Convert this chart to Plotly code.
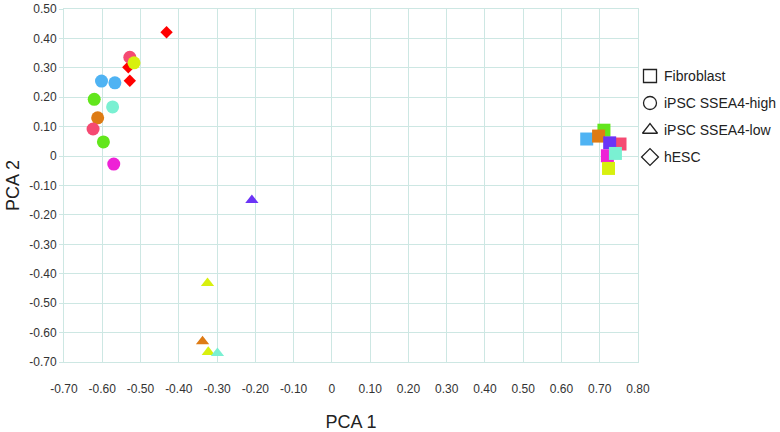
import plotly.graph_objects as go

# ---- data ----
fib_x = [0.711, 0.666, 0.697, 0.753, 0.726, 0.720, 0.741, 0.723]
fib_y = [0.088, 0.058, 0.068, 0.041, 0.045, 0.001, 0.009, -0.042]
fib_c = ["#62e61c", "#4fb3f3", "#de7b14", "#f54a72", "#6b34f6", "#ee22d6", "#7af0d2", "#d8f00e"]

hi_x = [-0.528, -0.517, -0.602, -0.567, -0.621, -0.573, -0.612, -0.624, -0.597, -0.570]
hi_y = [0.336, 0.317, 0.255, 0.249, 0.193, 0.167, 0.130, 0.092, 0.048, -0.027]
hi_c = ["#f54a72", "#d8f00e", "#4fb3f3", "#4fb3f3", "#62e61c", "#7af0d2", "#de7b14", "#f54a72", "#62e61c", "#ee22d6"]

lo_x = [-0.209, -0.325, -0.338, -0.323, -0.299]
lo_y = [-0.150, -0.432, -0.630, -0.666, -0.670]
lo_c = ["#6b34f6", "#d8f00e", "#de7b14", "#d8f00e", "#7af0d2"]

es_x = [-0.432, -0.532, -0.528]
es_y = [0.421, 0.302, 0.256]
es_c = ["#ff0000", "#ff0000", "#ff0000"]

legend_names = ["Fibroblast", "iPSC SSEA4-high", "iPSC SSEA4-low", "hESC"]
legend_symbols = ["square-open", "circle-open", "triangle-up-open", "diamond-open"]

x_ticks = [-0.7, -0.6, -0.5, -0.4, -0.3, -0.2, -0.1, 0, 0.1, 0.2, 0.3, 0.4, 0.5, 0.6, 0.7, 0.8]
x_ticktext = ["-0.70", "-0.60", "-0.50", "-0.40", "-0.30", "-0.20", "-0.10", "0",
              "0.10", "0.20", "0.30", "0.40", "0.50", "0.60", "0.70", "0.80"]
y_ticks = [0.5, 0.4, 0.3, 0.2, 0.1, 0, -0.1, -0.2, -0.3, -0.4, -0.5, -0.6, -0.7]
y_ticktext = ["0.50", "0.40", "0.30", "0.20", "0.10", "0", "-0.10", "-0.20",
              "-0.30", "-0.40", "-0.50", "-0.60", "-0.70"]

# ---- layout geometry (pixels) ----
W, H = 780, 432
L, T, B = 64, 9, 70
PLOT_RIGHT = 638
GRID = "#cde7e3"
FONT = "Liberation Sans, Arial, sans-serif"
TICKFONT = dict(family=FONT, size=12, color="#333333")

fig = go.Figure()

# data traces (draw order: diamonds, circles, triangles, squares)
fig.add_trace(go.Scatter(x=es_x, y=es_y, mode="markers", showlegend=False,
                         marker=dict(symbol="diamond", size=9.5, color=es_c, line=dict(width=0))))
fig.add_trace(go.Scatter(x=hi_x, y=hi_y, mode="markers", showlegend=False,
                         marker=dict(symbol="circle", size=13, color=hi_c, line=dict(width=0))))
fig.add_trace(go.Scatter(x=lo_x, y=lo_y, mode="markers", showlegend=False,
                         marker=dict(symbol="triangle-up", size=11.5, color=lo_c, line=dict(width=0))))
fig.add_trace(go.Scatter(x=fib_x, y=fib_y, mode="markers", showlegend=False,
                         marker=dict(symbol="square", size=13, color=fib_c, line=dict(width=0))))

# key (legend) drawn on an auxiliary axis in the right-hand area, in pixel units
key_x0, key_y0, key_dy, key_gap = 650, 76, 27, 12
key_x = [key_x0] * len(legend_names)
key_y = [key_y0 + i * key_dy for i in range(len(legend_names))]
fig.add_trace(go.Scatter(x=key_x, y=key_y, xaxis="x2", yaxis="y2",
                         mode="markers", showlegend=False, cliponaxis=False, hoverinfo="skip",
                         marker=dict(symbol=legend_symbols, size=13, color="#222222",
                                     line=dict(width=1.3, color="#222222"))))
for name, kx, ky in zip(legend_names, key_x, key_y):
    fig.add_annotation(x=kx + key_gap, y=ky, xref="x2", yref="y2", text=name,
                       showarrow=False, xanchor="left", yanchor="middle",
                       font=dict(family=FONT, size=14, color="#222222"))

dom_right = (PLOT_RIGHT - L) / (W - L)

fig.update_layout(
    width=W, height=H,
    margin=dict(l=L, r=0, t=T, b=B, autoexpand=False),
    paper_bgcolor="white", plot_bgcolor="white",
    font=dict(family=FONT, color="#222222"),
    showlegend=False,
    xaxis=dict(domain=[0, dom_right], range=[-0.7, 0.8], tickvals=x_ticks, ticktext=x_ticktext,
               showgrid=True, gridcolor=GRID, gridwidth=1, zeroline=False,
               showline=True, linecolor=GRID, linewidth=1, mirror=True,
               ticks="", tickfont=TICKFONT, ticklabelstandoff=16,
               title=dict(text="PCA 1", font=dict(size=18, color="#222222"), standoff=20)),
    yaxis=dict(range=[-0.7, 0.5], tickvals=y_ticks, ticktext=y_ticktext,
               showgrid=True, gridcolor=GRID, gridwidth=1, zeroline=False,
               showline=True, linecolor=GRID, linewidth=1, mirror=True,
               ticks="outside", ticklen=4, tickcolor=GRID, tickfont=TICKFONT,
               title=dict(text="PCA 2", font=dict(size=18, color="#222222"), standoff=4)),
    xaxis2=dict(domain=[dom_right, 1], range=[PLOT_RIGHT, W], anchor="y2",
                visible=False, fixedrange=True),
    yaxis2=dict(domain=[0, 1], range=[H - B, T], anchor="x2",
                visible=False, fixedrange=True),
)

fig.write_html("out.html", config={"displayModeBar": False},
               post_script="document.body.style.margin='0';document.body.style.overflow='hidden';")
